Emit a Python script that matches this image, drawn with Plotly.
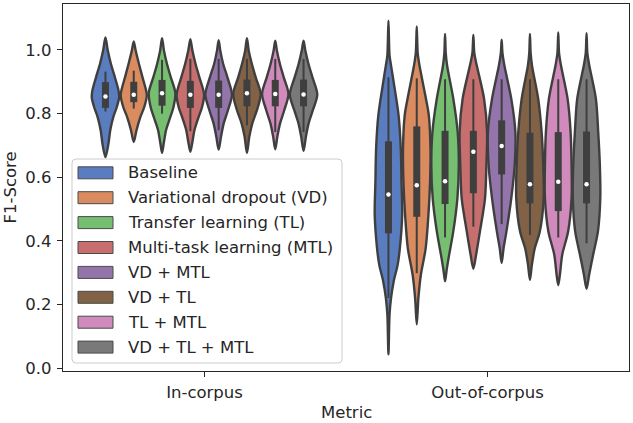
import plotly.graph_objects as go

# ---------------- data ----------------
categories = ["In-corpus", "Out-of-corpus"]
methods = ["Baseline", "Variational dropout (VD)", "Transfer learning (TL)",
           "Multi-task learning (MTL)", "VD + MTL", "VD + TL", "TL + MTL", "VD + TL + MTL"]
colors = ["#597dbf", "#da8b5f", "#76bf71", "#c76e6e", "#9475ab", "#826246", "#d08abb", "#797979"]

# violin outline profiles (F1 level, relative half width) - In-corpus
ic_prof_y = [
    [0.663, 0.706, 0.748, 0.789, 0.820, 0.852, 0.873, 0.914, 0.956, 0.998, 1.039],
    [0.711, 0.748, 0.789, 0.820, 0.857, 0.873, 0.914, 0.956, 0.998, 1.027],
    [0.677, 0.706, 0.748, 0.789, 0.820, 0.865, 0.914, 0.956, 0.998, 1.037],
    [0.680, 0.706, 0.748, 0.789, 0.820, 0.860, 0.914, 0.956, 0.998, 1.034],
    [0.687, 0.727, 0.768, 0.810, 0.860, 0.914, 0.956, 0.998, 1.031],
    [0.677, 0.727, 0.768, 0.810, 0.862, 0.914, 0.956, 0.998, 1.037],
    [0.688, 0.727, 0.768, 0.810, 0.862, 0.914, 0.956, 0.998, 1.029],
    [0.683, 0.727, 0.768, 0.810, 0.860, 0.914, 0.956, 0.998, 1.029],
]
ic_prof_w = [
    [0, 0.22, 0.35, 0.57, 0.82, 1.00, 0.95, 0.69, 0.40, 0.17, 0],
    [0, 0.20, 0.48, 0.76, 0.95, 0.90, 0.64, 0.38, 0.14, 0],
    [0, 0.12, 0.29, 0.60, 0.83, 0.97, 0.64, 0.36, 0.14, 0],
    [0, 0.13, 0.30, 0.60, 0.85, 1.00, 0.66, 0.38, 0.15, 0],
    [0, 0.17, 0.36, 0.67, 0.97, 0.64, 0.33, 0.12, 0],
    [0, 0.17, 0.38, 0.72, 1.00, 0.64, 0.36, 0.13, 0],
    [0, 0.15, 0.34, 0.65, 0.96, 0.62, 0.34, 0.12, 0],
    [0, 0.17, 0.36, 0.67, 1.00, 0.65, 0.36, 0.13, 0],
]
# Out-of-corpus
oc_prof_y = [
    [0.044, 0.169, 0.221, 0.273, 0.325, 0.377, 0.482, 0.586, 0.690, 0.794, 0.899, 0.951, 0.982, 1.092],
    [0.138, 0.221, 0.294, 0.377, 0.482, 0.586, 0.690, 0.794, 0.847, 0.951, 0.990, 1.074],
    [0.273, 0.310, 0.357, 0.430, 0.534, 0.638, 0.742, 0.847, 0.951, 0.990, 1.050],
    [0.313, 0.357, 0.430, 0.534, 0.638, 0.742, 0.847, 0.951, 0.990, 1.047],
    [0.331, 0.377, 0.430, 0.534, 0.638, 0.742, 0.847, 0.951, 0.990, 1.032],
    [0.278, 0.325, 0.377, 0.430, 0.534, 0.638, 0.742, 0.847, 0.951, 0.990, 1.050],
    [0.261, 0.294, 0.357, 0.430, 0.534, 0.638, 0.742, 0.847, 0.951, 0.990, 1.055],
    [0.250, 0.294, 0.357, 0.430, 0.534, 0.638, 0.742, 0.847, 0.951, 0.990, 1.053],
]
oc_prof_w = [
    [0, 0.08, 0.19, 0.38, 0.67, 0.83, 1.00, 0.95, 0.90, 0.74, 0.38, 0.19, 0.08, 0],
    [0, 0.12, 0.30, 0.65, 0.85, 0.97, 1.00, 0.88, 0.67, 0.20, 0.07, 0],
    [0, 0.12, 0.30, 0.60, 0.90, 1.00, 0.92, 0.60, 0.15, 0.05, 0],
    [0, 0.20, 0.48, 0.85, 0.95, 1.00, 0.78, 0.25, 0.07, 0],
    [0, 0.14, 0.35, 0.70, 0.95, 1.00, 0.70, 0.20, 0.06, 0],
    [0, 0.14, 0.35, 0.72, 1.00, 0.97, 0.85, 0.60, 0.15, 0.05, 0],
    [0, 0.12, 0.29, 0.72, 0.97, 0.97, 0.90, 0.68, 0.20, 0.06, 0],
    [0, 0.19, 0.48, 0.83, 1.00, 0.97, 0.85, 0.68, 0.20, 0.06, 0],
]

# inner box stats: whisker low, Q1, median, Q3, whisker high
ic_whisk_lo = [0.807, 0.816, 0.800, 0.745, 0.748, 0.763, 0.742, 0.742]
ic_q1 = [0.818, 0.836, 0.825, 0.818, 0.818, 0.823, 0.823, 0.823]
ic_median = [0.854, 0.859, 0.864, 0.859, 0.859, 0.864, 0.862, 0.860]
ic_q3 = [0.899, 0.900, 0.906, 0.903, 0.904, 0.907, 0.906, 0.907]
ic_whisk_hi = [0.932, 0.935, 0.969, 0.972, 0.972, 0.972, 0.972, 0.972]

oc_whisk_lo = [0.221, 0.299, 0.411, 0.445, 0.453, 0.419, 0.411, 0.393]
oc_q1 = [0.424, 0.476, 0.516, 0.550, 0.609, 0.518, 0.494, 0.518]
oc_median = [0.546, 0.575, 0.588, 0.680, 0.698, 0.578, 0.586, 0.578]
oc_q3 = [0.713, 0.760, 0.746, 0.746, 0.779, 0.740, 0.742, 0.744]
oc_whisk_hi = [0.914, 0.911, 0.908, 0.908, 0.908, 0.908, 0.908, 0.908]

y_ticks = [0.0, 0.2, 0.4, 0.6, 0.8, 1.0]

# ---------------- layout constants ----------------
W, H = 633, 423
L, R, T, B = 63, 629, 4, 371
FONT = "DejaVu Sans"
TXT = "#262626"
EDGE = "#3f3f3f"
FS = 16.5
n_hue = len(methods)
slot = 0.8 / n_hue
half_max = slot / 2 * 0.97

fig = go.Figure()

groups = [
    (0, ic_prof_y, ic_prof_w, ic_whisk_lo, ic_q1, ic_median, ic_q3, ic_whisk_hi),
    (1, oc_prof_y, oc_prof_w, oc_whisk_lo, oc_q1, oc_median, oc_q3, oc_whisk_hi),
]

for gx, py, pw, wl, q1, md, q3, wh in groups:
    for i in range(n_hue):
        xc = gx + (i - (n_hue - 1) / 2) * slot
        ys, ws = py[i], pw[i]
        right_x = [xc + w * half_max for w in ws]
        left_x = [xc - w * half_max for w in ws[1:-1]][::-1]
        xs = right_x + left_x + [right_x[0]]
        yy = list(ys) + list(ys[1:-1])[::-1] + [ys[0]]
        fig.add_trace(go.Scatter(
            x=xs, y=yy, mode="lines", fill="toself", fillcolor=colors[i],
            line=dict(color=EDGE, width=2.4, shape="spline", smoothing=0.85),
            hoverinfo="skip", showlegend=False))
        fig.add_trace(go.Scatter(
            x=[xc, xc], y=[wl[i], wh[i]], mode="lines",
            line=dict(color=EDGE, width=2), hoverinfo="skip", showlegend=False))
        fig.add_trace(go.Scatter(
            x=[xc, xc], y=[q1[i], q3[i]], mode="lines",
            line=dict(color=EDGE, width=7), hoverinfo="skip", showlegend=False))
        fig.add_trace(go.Scatter(
            x=[xc], y=[md[i]], mode="markers",
            marker=dict(color="white", size=4.5, line=dict(width=0)),
            hoverinfo="skip", showlegend=False))

all_y = [v for grp in (ic_prof_y, oc_prof_y) for prof in grp for v in prof]
ymin, ymax = min(all_y), max(all_y)
pad = 0.05 * (ymax - ymin)

fig.update_layout(
    width=W, height=H,
    margin=dict(l=L, r=W - R, t=T, b=H - B, pad=0, autoexpand=False),
    paper_bgcolor="white", plot_bgcolor="white",
    font=dict(family=FONT, size=16, color=TXT),
    showlegend=False,
    xaxis=dict(range=[-0.5, 1.5], tickvals=[0, 1], ticktext=categories,
               showgrid=False, zeroline=False, showline=True, mirror=True,
               linecolor=TXT, linewidth=1.2, ticks="outside", ticklen=5,
               tickwidth=1.2, tickcolor=TXT, tickfont=dict(size=FS),
               automargin=False, ticklabelstandoff=1),
    yaxis=dict(range=[ymin - pad, ymax + pad], tickvals=y_ticks,
               ticktext=[f"{v:.1f}" for v in y_ticks],
               showgrid=False, zeroline=False, showline=True, mirror=True,
               linecolor=TXT, linewidth=1.2, ticks="outside", ticklen=5,
               tickwidth=1.2, tickcolor=TXT, tickfont=dict(size=FS),
               automargin=False, ticklabelstandoff=2),
)

def px(xp):
    return (xp - L) / (R - L)

def py_(yp):
    return (B - yp) / (B - T)

# axis titles
fig.add_annotation(x=px((L + R) / 2), y=py_(413), xref="paper", yref="paper",
                   text="Metric", showarrow=False, xanchor="center", yanchor="middle",
                   font=dict(family=FONT, size=FS, color=TXT))
fig.add_annotation(x=px(10), y=py_((T + B) / 2), xref="paper", yref="paper",
                   text="F1-Score", showarrow=False, xanchor="center", yanchor="middle",
                   textangle=-90, font=dict(family=FONT, size=FS, color=TXT))

# ---------------- manual legend (matplotlib style) ----------------
lx0, lx1, ly0, ly1 = 72, 342, 159, 363
rad = 4
rx, ry = rad / (R - L), rad / (B - T)
X0, X1, Y0, Y1 = px(lx0), px(lx1), py_(ly1), py_(ly0)
path = (f"M {X0+rx},{Y0} L {X1-rx},{Y0} Q {X1},{Y0} {X1},{Y0+ry} "
        f"L {X1},{Y1-ry} Q {X1},{Y1} {X1-rx},{Y1} L {X0+rx},{Y1} "
        f"Q {X0},{Y1} {X0},{Y1-ry} L {X0},{Y0+ry} Q {X0},{Y0} {X0+rx},{Y0} Z")
fig.add_shape(type="path", path=path, xref="paper", yref="paper",
              fillcolor="rgba(255,255,255,0.8)", line=dict(color="#cccccc", width=1),
              layer="above")

first_c, step = 172.8, 24.9
for i, name in enumerate(methods):
    cy = first_c + i * step
    fig.add_shape(type="rect", xref="paper", yref="paper",
                  x0=px(78), x1=px(113), y0=py_(cy + 6), y1=py_(cy - 6),
                  fillcolor=colors[i], line=dict(color="#4a4a4a", width=1),
                  layer="above")
    fig.add_annotation(x=px(126), y=py_(cy), xref="paper", yref="paper",
                       text=name, showarrow=False, xanchor="left", yanchor="middle",
                       font=dict(family=FONT, size=FS, color=TXT))

fig.write_html("out.html", config={"displayModeBar": False},
               post_script="document.body.style.margin='0';document.body.style.overflow='hidden';")
